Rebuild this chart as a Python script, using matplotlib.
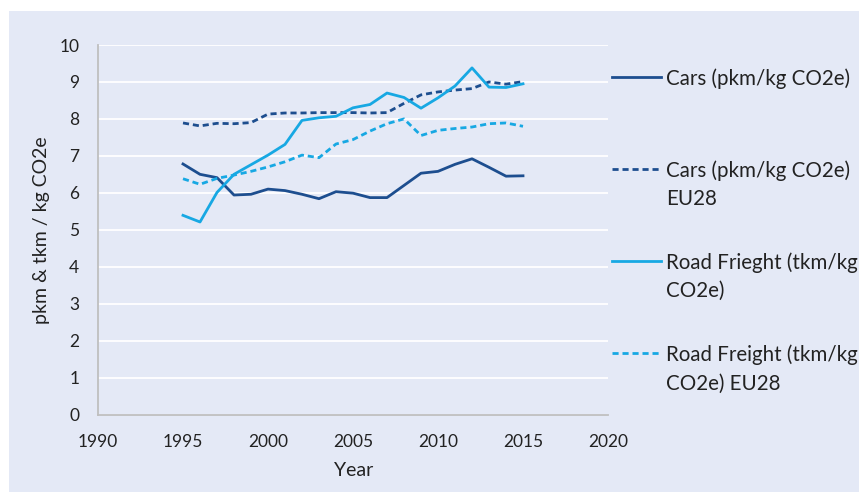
import matplotlib.pyplot as plt
from matplotlib.lines import Line2D
from matplotlib.patches import Rectangle

plt.rcParams['font.family'] = ['Lato', 'DejaVu Sans']

years = list(range(1995, 2016))
cars = [6.78, 6.50, 6.41, 5.94, 5.96, 6.10, 6.06, 5.96, 5.84, 6.03, 5.99,
        5.87, 5.87, 6.20, 6.53, 6.58, 6.77, 6.92, 6.69, 6.45, 6.46]
cars_eu28 = [7.89, 7.81, 7.88, 7.87, 7.90, 8.13, 8.16, 8.16, 8.17, 8.17, 8.17,
             8.16, 8.17, 8.42, 8.65, 8.73, 8.78, 8.82, 9.00, 8.94, 9.01]
freight = [5.39, 5.21, 6.01, 6.50, 6.76, 7.02, 7.31, 7.96, 8.03, 8.07, 8.30,
           8.39, 8.70, 8.58, 8.29, 8.57, 8.89, 9.38, 8.86, 8.85, 8.95]
freight_eu28 = [6.38, 6.23, 6.39, 6.48, 6.58, 6.70, 6.84, 7.02, 6.95, 7.32, 7.44,
                7.67, 7.87, 8.00, 7.55, 7.69, 7.74, 7.78, 7.87, 7.89, 7.80]

labels = ["Cars (pkm/kg CO2e)",
          "Cars (pkm/kg CO2e)\nEU28",
          "Road Frieght (tkm/kg\nCO2e)",
          "Road Freight (tkm/kg\nCO2e) EU28"]

dark = '#1d4e8f'
light = '#17a8e3'
bg = '#e4e9f6'
dash = (2.2, 1.4)

fig = plt.figure(figsize=(8.59, 4.92), dpi=100, facecolor='white')
fig.add_artist(Rectangle((9 / 859, 0), 1, (492 - 11) / 492,
                         transform=fig.transFigure, facecolor=bg,
                         edgecolor='none', zorder=-10))

ax = fig.add_axes([98 / 859, 77.5 / 492, 510 / 859, 369.5 / 492])
ax.set_facecolor(bg)

styles = [(cars, dark, '-'), (cars_eu28, dark, '--'),
          (freight, light, '-'), (freight_eu28, light, '--')]
for vals, col, ls in styles:
    ln, = ax.plot(years, vals, color=col, linestyle=ls, linewidth=2.0)
    if ls == '--':
        ln.set_dashes(dash)

ax.set_xlim(1990, 2020)
ax.set_ylim(0, 10)
ax.set_xticks(range(1990, 2021, 5))
ax.set_yticks(range(0, 11))
ax.grid(axis='y', color='white', linewidth=1.3)
ax.set_axisbelow(True)
for s in ['top', 'right']:
    ax.spines[s].set_visible(False)
for s in ['left', 'bottom']:
    ax.spines[s].set_color('#bfbfbf')
    ax.spines[s].set_linewidth(1.3)
ax.tick_params(length=0, labelsize=12.5, colors='#222222')
ax.tick_params(axis='y', pad=13.5)
ax.tick_params(axis='x', pad=14)

fig.text(42 / 859, 1 - 230 / 492, "pkm & tkm / kg CO2e", rotation=90,
         ha='center', va='center', fontsize=14, color='#222222')
fig.text(354 / 859, 1 - 471 / 492, "Year", ha='center', va='center',
         fontsize=14, color='#222222')

# legend drawn by hand so the key sits on the first text line
for i, (lab, (vals, col, ls)) in enumerate(zip(labels, styles)):
    y = 1 - (76.5 + 92.3 * i) / 492
    ln = Line2D([612 / 859, 661 / 859], [y, y], transform=fig.transFigure,
                color=col, linestyle=ls, linewidth=2.0)
    if ls == '--':
        ln.set_dashes(dash)
    fig.add_artist(ln)
    fig.text(666 / 859, y + 8.5 / 492, lab, ha='left', va='top', fontsize=14.8,
             color='#222222', linespacing=1.5)

fig.savefig('out.png', dpi=100, facecolor='white')
